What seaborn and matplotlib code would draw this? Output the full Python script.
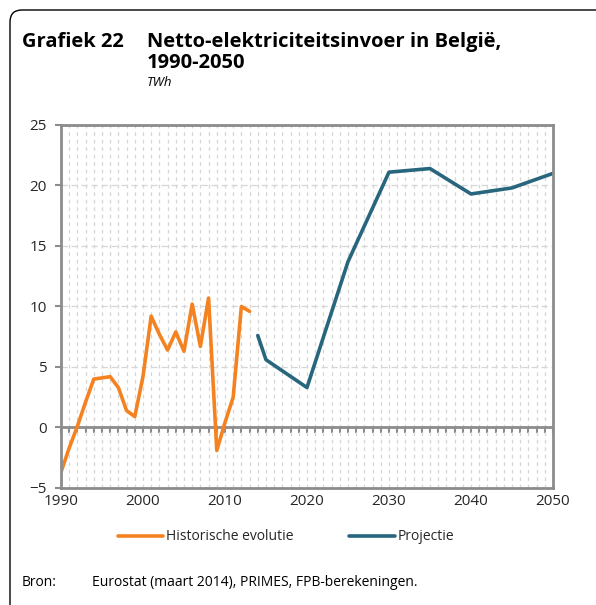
import numpy as np
import pandas as pd
import matplotlib
matplotlib.use("Agg")
import matplotlib.pyplot as plt
from matplotlib.ticker import MultipleLocator, NullFormatter
from matplotlib.patches import FancyBboxPatch
from matplotlib.lines import Line2D
import seaborn as sns

# ---- data ----
hist_years = list(range(1990, 2014))
hist_values = [-3.7, -1.7, 0.1, 2.1, 4.0, 4.1, 4.2, 3.3, 1.4, 0.9, 4.2, 9.2,
               7.7, 6.4, 7.9, 6.3, 10.2, 6.7, 10.7, -1.9, 0.4, 2.5, 10.0, 9.6]
proj_years = [2014, 2015, 2020, 2025, 2030, 2035, 2040, 2045, 2050]
proj_values = [7.6, 5.6, 3.3, 13.7, 21.1, 21.4, 19.3, 19.8, 21.0]
series_names = ["Historische evolutie", "Projectie"]
x_ticks = [1990, 2000, 2010, 2020, 2030, 2040, 2050]
y_ticks = [-5, 0, 5, 10, 15, 20, 25]

df = pd.concat([
    pd.DataFrame({"jaar": hist_years, "TWh": hist_values, "reeks": series_names[0]}),
    pd.DataFrame({"jaar": proj_years, "TWh": proj_values, "reeks": series_names[1]}),
])

sns.set_theme(style="white")
plt.rcParams["font.family"] = ["Open Sans", "DejaVu Sans"]

ORANGE = "#F58220"
BLUE = "#28667E"
GREY = "#8C8C8C"
TXT = "#262626"

fig = plt.figure(figsize=(5.96, 6.05), dpi=100)
ax = fig.add_axes([0.1023, 0.1934, 0.8255, 0.6000])

sns.lineplot(data=df, x="jaar", y="TWh", hue="reeks",
             palette={series_names[0]: ORANGE, series_names[1]: BLUE},
             linewidth=2.6, ax=ax, legend=False, sort=False)

ax.set_xlim(1990, 2050)
ax.set_ylim(-5, 25)
ax.set_xticks(x_ticks)
ax.set_yticks(y_ticks)
ax.xaxis.set_minor_locator(MultipleLocator(1))
ax.set_xlabel("")
ax.set_ylabel("")

ax.grid(False)
ax.grid(which="minor", axis="x", color="#D6D6D6", linestyle=(0, (3, 3)), linewidth=0.9)
ax.grid(which="major", axis="x", color="#D6D6D6", linestyle=(0, (3, 3)), linewidth=0.9)
ax.grid(which="major", axis="y", color="#D6D6D6", linestyle=(0, (5, 3)), linewidth=0.9)
ax.set_axisbelow(True)

for s in ax.spines.values():
    s.set_color(GREY)
    s.set_linewidth(2.0)
    s.set_visible(True)

ax.tick_params(axis="y", which="major", direction="out", length=4, width=1.5,
               color=GREY, labelsize=11, labelcolor=TXT, pad=6, left=True)
ax.tick_params(axis="x", which="both", length=0, labelsize=11, labelcolor=TXT, pad=4)

# zero line with yearly tick marks (x-axis crossing at 0)
ax.axhline(0, color=GREY, linewidth=2.0, zorder=1.5)
sec = ax.secondary_xaxis(5 / 30)
sec.xaxis.set_ticks_position("bottom")
sec.set_xticks(list(range(1990, 2051)))
sec.xaxis.set_major_formatter(NullFormatter())
sec.tick_params(axis="x", direction="out", length=4, width=1.5, color=GREY,
                labelbottom=False, labeltop=False, bottom=True, top=False)
for s in sec.spines.values():
    s.set_visible(False)

# titles
fig.text(22 / 596, 1 - 42 / 605, "Grafiek 22", fontsize=14.5, fontweight="bold",
         color="black", va="center", ha="left")
fig.text(147 / 596, 1 - 42 / 605, "Netto-elektriciteitsinvoer in België,", fontsize=14.5,
         fontweight="bold", color="black", va="center", ha="left")
fig.text(147 / 596, 1 - 63 / 605, "1990-2050", fontsize=14.5, fontweight="bold",
         color="black", va="center", ha="left")
fig.text(147 / 596, 1 - 83 / 605, "TWh", fontsize=9.5, style="italic",
         color="black", va="center", ha="left")

# legend
handles = [Line2D([], [], color=ORANGE, linewidth=2.6, solid_capstyle="round"),
           Line2D([], [], color=BLUE, linewidth=2.6, solid_capstyle="round")]
fig.legend(handles, series_names, loc="center", bbox_to_anchor=(0.48, 1 - 537 / 605),
           ncol=2, frameon=False, fontsize=10, handlelength=3.3, handletextpad=0.2,
           columnspacing=4.0, labelcolor=TXT)

# source
fig.text(22 / 596, 1 - 582 / 605, "Bron:", fontsize=10, color="black", va="center")
fig.text(92 / 596, 1 - 582 / 605, "Eurostat (maart 2014), PRIMES, FPB-berekeningen.",
         fontsize=10, color="black", va="center")

# frame
frame = FancyBboxPatch((10 / 596, -0.1), 1.2, 1.1 - 10 / 605,
                       boxstyle="round,pad=0,rounding_size=0.02",
                       transform=fig.transFigure, fill=False, edgecolor="black",
                       linewidth=1.0, clip_on=False)
fig.patches.append(frame)

fig.savefig("out.png", dpi=100)
